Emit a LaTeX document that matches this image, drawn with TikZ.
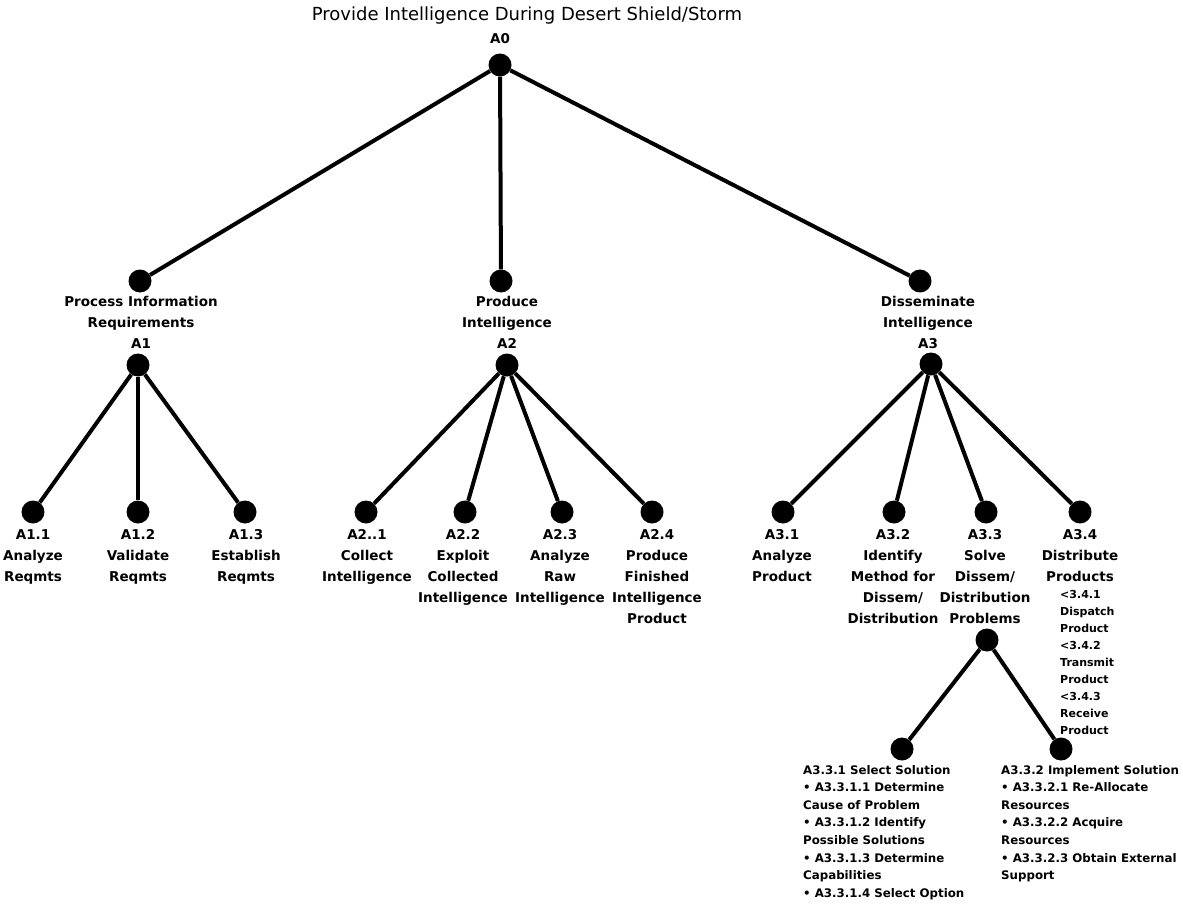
\documentclass[tikz,border=0pt]{standalone}
\usepackage{fontspec}
\setmainfont{DejaVu Sans}
\begin{document}
\begin{tikzpicture}[x=1pt,y=-1pt,
  dot/.style={circle,fill=black,inner sep=0pt,minimum size=23pt},
  link/.style={line width=4pt},
  lab/.style={font=\bfseries\fontsize{13.5}{21}\selectfont,align=center,inner sep=0pt,anchor=north},
  sublab/.style={font=\bfseries\fontsize{11}{17}\selectfont,align=left,inner sep=0pt,anchor=north west},
  blocklab/.style={font=\bfseries\fontsize{11.8}{17.6}\selectfont,align=left,inner sep=0pt,anchor=north west},
  titlelab/.style={font=\fontsize{18}{20}\selectfont,inner sep=0pt,anchor=north}]
\useasboundingbox[fill=white] (0,0) rectangle (1183,904);

% title
\node[titlelab] (title) at (527,7) {Provide Intelligence During Desert Shield/Storm};
\node[lab] (a0lab) at (500,33) {A0};
\node[dot] (a0) at (500,65) {};

% level 1
\node[dot] (a1t) at (140,281) {};
\node[lab] (a1lab) at (141,296) {Process Information\\Requirements\\A1};
\node[dot] (a1b) at (138,365) {};

\node[dot] (a2t) at (501,281) {};
\node[lab] (a2lab) at (507,296) {Produce\\Intelligence\\A2};
\node[dot] (a2b) at (507,365) {};

\node[dot] (a3t) at (920,281) {};
\node[lab] (a3lab) at (928,296) {Disseminate\\Intelligence\\A3};
\node[dot] (a3b) at (931,364) {};

% leaves of A1
\node[dot] (a11) at (33,512) {};
\node[dot] (a12) at (138,512) {};
\node[dot] (a13) at (245,512) {};
\node[lab] (a11lab) at (33,529) {A1.1\\Analyze\\Reqmts};
\node[lab] (a12lab) at (138,529) {A1.2\\Validate\\Reqmts};
\node[lab] (a13lab) at (246,529) {A1.3\\Establish\\Reqmts};

% leaves of A2
\node[dot] (a21) at (366,512) {};
\node[dot] (a22) at (465,512) {};
\node[dot] (a23) at (562,512) {};
\node[dot] (a24) at (652,512) {};
\node[lab] (a21lab) at (367,529) {A2..1\\Collect\\Intelligence};
\node[lab] (a22lab) at (463,529) {A2.2\\Exploit\\Collected\\Intelligence};
\node[lab] (a23lab) at (560,529) {A2.3\\Analyze\\Raw\\Intelligence};
\node[lab] (a24lab) at (657,529) {A2.4\\Produce\\Finished\\Intelligence\\Product};

% leaves of A3
\node[dot] (a31) at (783,512) {};
\node[dot] (a32) at (894,512) {};
\node[dot] (a33) at (986,512) {};
\node[dot] (a34) at (1080,512) {};
\node[lab] (a31lab) at (782,529) {A3.1\\Analyze\\Product};
\node[lab] (a32lab) at (893,529) {A3.2\\Identify\\Method for\\Dissem/\\Distribution};
\node[lab] (a33lab) at (985,529) {A3.3\\Solve\\Dissem/\\Distribution\\Problems};
\node[lab] (a34lab) at (1080,529) {A3.4\\Distribute\\Products};
\node[sublab] (a34sub) at (1060,590) {<3.4.1\\Dispatch\\Product\\<3.4.2\\Transmit\\Product\\<3.4.3\\Receive\\Product};

% A3.3 decomposition
\node[dot] (a33b) at (987,640) {};
\node[dot] (a331) at (902,749) {};
\node[dot] (a332) at (1061,749) {};
\node[blocklab] (a331lab) at (803,765) {A3.3.1 Select Solution\\
  \textbullet\ A3.3.1.1 Determine\\Cause of Problem\\
  \textbullet\ A3.3.1.2 Identify\\Possible Solutions\\
  \textbullet\ A3.3.1.3 Determine\\Capabilities\\
  \textbullet\ A3.3.1.4 Select Option};
\node[blocklab] (a332lab) at (1001,765) {A3.3.2 Implement Solution\\
  \textbullet\ A3.3.2.1 Re-Allocate\\Resources\\
  \textbullet\ A3.3.2.2 Acquire\\Resources\\
  \textbullet\ A3.3.2.3 Obtain External\\Support};

% connectors
\draw[link] (a0) -- (a1t);
\draw[link] (a0) -- (a2t);
\draw[link] (a0) -- (a3t);
\draw[link] (a1b) -- (a11);
\draw[link] (a1b) -- (a12);
\draw[link] (a1b) -- (a13);
\draw[link] (a2b) -- (a21);
\draw[link] (a2b) -- (a22);
\draw[link] (a2b) -- (a23);
\draw[link] (a2b) -- (a24);
\draw[link] (a3b) -- (a31);
\draw[link] (a3b) -- (a32);
\draw[link] (a3b) -- (a33);
\draw[link] (a3b) -- (a34);
\draw[link] (a33b) -- (a331);
\draw[link] (a33b) -- (a332);
\end{tikzpicture}
\end{document}
